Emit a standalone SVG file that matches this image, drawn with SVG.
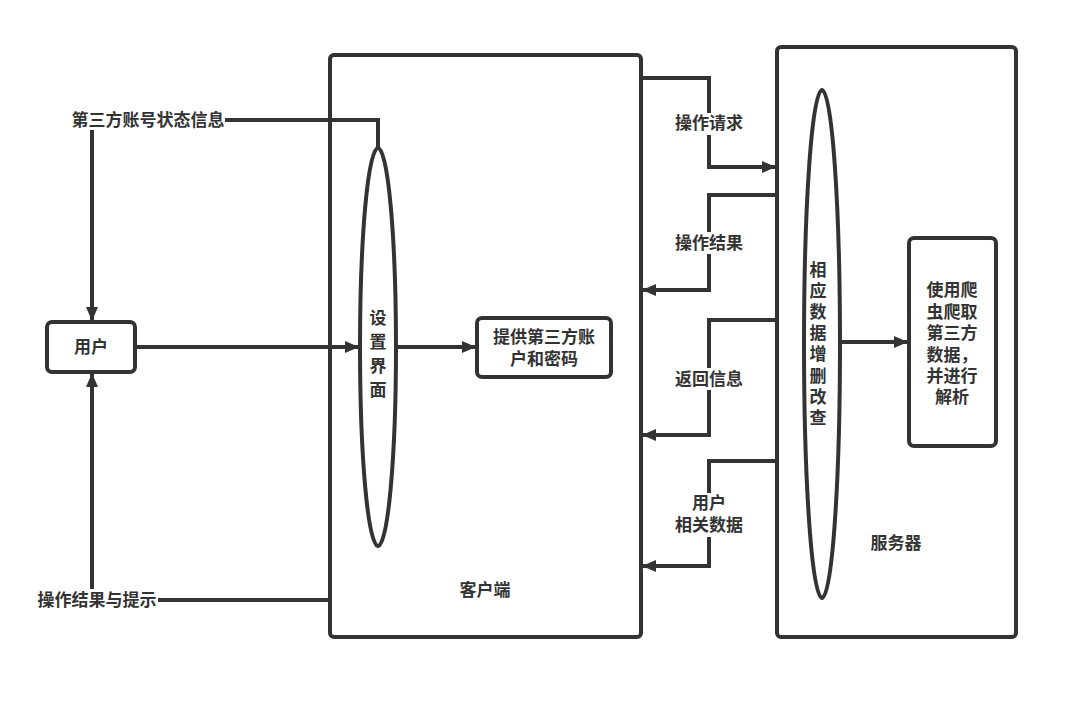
<svg xmlns="http://www.w3.org/2000/svg" width="1077" height="701" viewBox="0 0 1077 701">
<style>
.box{fill:#fff;stroke:#333;stroke-width:4}
.ln{fill:none;stroke:#333;stroke-width:4}
.t{font-family:"Liberation Sans","Noto Sans CJK SC",sans-serif;font-size:17px;font-weight:bold;fill:#333;text-anchor:middle;dominant-baseline:central}
.bg{fill:#fff}
</style>
<defs>
<marker id="ah" viewBox="0 0 14 12" refX="13" refY="6" markerWidth="14" markerHeight="12" markerUnits="userSpaceOnUse" orient="auto">
<path d="M0,0 L14,6 L0,12 Z" fill="#333"/>
</marker>
</defs>
<rect width="1077" height="701" fill="#fff"/>
<g id="client">
<rect class="box" x="330" y="55" width="311" height="582" rx="4"/>
<text class="t" x="485" y="590">客户端</text>
</g>
<g id="server">
<rect class="box" x="777" y="47" width="239" height="590" rx="4"/>
<text class="t" x="896" y="543">服务器</text>
</g>
<g id="connectors">
<path class="ln" d="M225,120 H378 V148"/>
<path class="ln" d="M92,130 V320" marker-end="url(#ah)"/>
<path class="ln" d="M135,347 H358" marker-end="url(#ah)"/>
<path class="ln" d="M330,600 H157"/>
<path class="ln" d="M92,590 V374" marker-end="url(#ah)"/>
<path class="ln" d="M396,347 H475" marker-end="url(#ah)"/>
<path class="ln" d="M641,78 H709 V167 H775" marker-end="url(#ah)"/>
<path class="ln" d="M777,195 H709 V290 H643" marker-end="url(#ah)"/>
<path class="ln" d="M777,320 H709 V435 H643" marker-end="url(#ah)"/>
<path class="ln" d="M777,461 H709 V566 H643" marker-end="url(#ah)"/>
<path class="ln" d="M840,342 H907" marker-end="url(#ah)"/>
</g>
<g id="label-status">
<text class="t" x="148" y="120">第三方账号状态信息</text>
</g>
<g id="label-result-tip">
<rect class="bg" x="36" y="589" width="122" height="22"/>
<text class="t" x="97" y="600">操作结果与提示</text>
</g>
<g id="label-req">
<rect class="bg" x="674" y="113" width="70" height="22"/>
<text class="t" x="709" y="123">操作请求</text>
</g>
<g id="label-res">
<rect class="bg" x="674" y="232" width="70" height="22"/>
<text class="t" x="709" y="243">操作结果</text>
</g>
<g id="label-ret">
<rect class="bg" x="674" y="368" width="70" height="22"/>
<text class="t" x="709" y="379">返回信息</text>
</g>
<g id="label-data">
<rect class="bg" x="674" y="493" width="70" height="44"/>
<text class="t" x="709" y="503">用户<tspan x="709" dy="22">相关数据</tspan></text>
</g>
<g id="user">
<rect class="box" x="47" y="322" width="88" height="50" rx="5"/>
<text class="t" x="91" y="347">用户</text>
</g>
<g id="settings">
<ellipse class="box" cx="378" cy="347" rx="18" ry="199"/>
<text class="t" x="378" y="318">设<tspan x="378" dy="24">置</tspan><tspan x="378" dy="24">界</tspan><tspan x="378" dy="24">面</tspan></text>
</g>
<g id="provide">
<rect class="box" x="477" y="318" width="134" height="59" rx="5"/>
<text class="t" x="544" y="337">提供第三方账<tspan x="544" dy="22">户和密码</tspan></text>
</g>
<g id="crud">
<ellipse class="box" cx="822" cy="344" rx="18" ry="254"/>
<text class="t" x="818" y="270">相<tspan x="818" dy="21.1">应</tspan><tspan x="818" dy="21.1">数</tspan><tspan x="818" dy="21.1">据</tspan><tspan x="818" dy="21.1">增</tspan><tspan x="818" dy="21.1">删</tspan><tspan x="818" dy="21.1">改</tspan><tspan x="818" dy="21.1">查</tspan></text>
</g>
<g id="crawler">
<rect class="box" x="909" y="238" width="87" height="208" rx="5"/>
<text class="t" x="952" y="290">使用爬<tspan x="952" dy="21.5">虫爬取</tspan><tspan x="952" dy="21.5">第三方</tspan><tspan x="952" dy="21.5">数据，</tspan><tspan x="952" dy="21.5">并进行</tspan><tspan x="952" dy="21">解析</tspan></text>
</g>
</svg>
